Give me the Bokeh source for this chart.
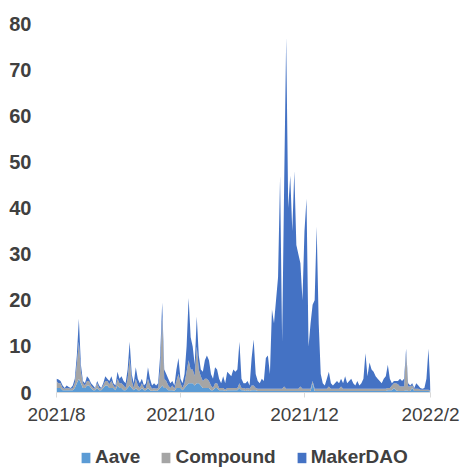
import pandas as pd
from bokeh.plotting import figure
from bokeh.layouts import column
from bokeh.models import Range1d, FixedTicker, Legend, LegendItem, ColumnDataSource
from bokeh.embed import file_html
from bokeh.resources import INLINE

dates = pd.date_range("2021-08-01", "2022-02-01", freq="D")

aave = [
    1, 1, 1, 0.5, 0.5, 0.5, 0.5, 0.5, 0.5, 1, 2, 3, 2, 1, 1, 1.5, 1.5, 1, 0.5, 0.5, 1, 0.5, 0.5, 1, 1.5, 1.5, 1, 1, 1, 0.5, 1.5,
    1, 1, 0.5, 0.5, 1, 1.5, 1, 0.5, 1, 0.5, 0.5, 1, 0.5, 0.5, 1, 0.5, 0.3, 0.5, 0.3, 0.5, 1, 1.5, 1, 1, 0.5, 0.5, 0.5, 0.3, 1, 1,
    1, 0.5, 1, 1.5, 2, 2, 2, 1.5, 2, 2, 1.5, 1, 1, 1, 1, 0.5, 0.5, 1, 1, 0.5, 0.5, 0.5, 0.3, 0.5, 0.5, 0.5, 0.5, 0.5, 0.5, 1, 0.5,
    0.5, 0.3, 0.5, 0.3, 0.5, 0.5, 0.5, 0.3, 0.3, 0.3, 0.3, 0.3, 0.3, 0.3, 0.3, 0.3, 0.3, 0.3, 0.3, 0.3, 0.3, 0.3, 0.3, 0.3, 0.3, 0.3, 0.3, 0.3, 0.3, 0.3,
    0.3, 0.3, 0.3, 0.3, 2, 0.3, 0.3, 0.3, 0.3, 0.3, 0.3, 0.3, 0.3, 0.3, 0.3, 0.3, 0.3, 0.3, 0.3, 0.3, 0.3, 0.3, 0.3, 0.3, 0.3, 0.3, 0.3, 0.3, 0.3, 0.3, 0.3,
    0.3, 0.3, 0.3, 0.3, 0.3, 0.3, 0.3, 0.3, 0.3, 0.3, 0.5, 0.5, 0.5, 1, 0.5, 0.3, 0.3, 0.3, 0.3, 0.5, 0.3, 0.3, 1, 0.3, 0.3, 0.3, 0.3, 0.3, 0.3, 0.3, 0.3,
    0.2,
]

compound = [
    1.5, 1, 1, 0.5, 0.3, 0.5, 0.4, 0.3, 0.5, 1, 4, 8, 2.5, 1, 0.5, 1, 1, 0.5, 0.5, 0.3, 1, 0.5, 0.3, 0.5, 1, 1, 0.8, 1.5, 0.5, 0.5, 1.5,
    1, 1, 1, 0.5, 2, 6, 1.5, 0.5, 2, 1, 0.5, 1, 0.5, 0.5, 2, 1, 0.5, 0.5, 0.5, 0.5, 4, 15, 2, 1.5, 1, 0.5, 1, 0.5, 1.5, 3,
    1, 0.5, 1, 3, 5, 3, 3, 2, 8, 3, 2, 1.5, 2, 2, 1.5, 1, 0.5, 1, 1, 0.5, 0.5, 0.5, 0.3, 0.5, 0.5, 0.5, 0.5, 0.5, 0.5, 1, 0.5,
    0.5, 0.5, 0.5, 0.5, 1, 1, 0.5, 0.5, 0.5, 0.5, 0.5, 0.5, 0.5, 0.5, 0.5, 0.5, 0.5, 0.5, 0.5, 0.5, 1, 0.5, 0.5, 0.5, 0.5, 0.5, 0.5, 0.5, 1, 0.5,
    0.5, 0.5, 0.5, 0.5, 0.5, 0.5, 0.5, 0.5, 0.5, 0.5, 0.5, 0.5, 1, 0.5, 0.5, 0.5, 0.5, 0.5, 1, 0.5, 0.5, 0.5, 0.5, 0.5, 0.5, 0.5, 0.5, 0.5, 0.5, 0.5, 0.5,
    0.5, 0.5, 0.5, 0.5, 0.5, 0.5, 0.5, 0.5, 0.5, 0.5, 0.5, 0.5, 1, 1, 1.5, 1.5, 1, 1, 1, 8, 1, 1, 0.5, 0.5, 0.5, 0.5, 0.3, 0.3, 0.3, 0.3, 0.3,
    0.2,
]

makerdao = [
    0.5, 0.8, 0.5, 0.5, 0.2, 0.5, 0.3, 0.2, 0.5, 1, 2, 5, 1.5, 0.5, 0.5, 1, 0.5, 0.5, 0.5, 0.2, 0.5, 0.5, 0.2, 0.5, 1, 0.5, 0.7, 1, 0.5, 0.5, 1.5,
    1, 1.5, 1, 1, 2, 3.5, 1.5, 1, 2.5, 1.5, 1, 1, 0.5, 1, 2.5, 1.5, 0.7, 1, 0.7, 1, 3, 3, 2, 1.5, 1.5, 1, 1, 0.7, 2.5, 3.5,
    1, 1, 2, 5.5, 13.5, 7, 5, 2.5, 6.5, 3, 1.5, 2, 4, 5, 4.5, 2.5, 2, 3.5, 3, 2, 1, 2.5, 1.4, 3.5, 3, 2.5, 4, 3.5, 4, 9, 2,
    1, 1.2, 1.5, 0.7, 6, 10, 3, 1.7, 1.2, 2.2, 1.7, 6.7, 7.2, 3.2, 17.2, 14.2, 19.2, 24.2, 46.2, 10.2, 43.7, 76.2, 39.2, 46.2, 34.2, 47.2, 31.2, 29.2, 26.7, 19.2,
    34.2, 41.2, 9.2, 14.2, 16.5, 19.2, 35.2, 14.2, 3.2, 1.2, 0.7, 2.2, 3.2, 1.2, 0.7, 1.2, 1.7, 1.2, 1.7, 1.2, 2.7, 1.2, 1.7, 2.2, 1.2, 0.7, 1.7, 0.7, 1.2, 2.2, 7.7,
    2.7, 5.7, 4.2, 3.7, 2.7, 2.2, 1.7, 1.2, 2.2, 2.7, 5, 2, 0.5, 0.5, 0.5, 0.7, 1.7, 1.2, 1.7, 1, 0.7, 0.2, 0.5, 0.2, 1.2, 0.7, 0.4, 0.2, 0.4, 2.4, 8.9,
    0.1,
]

series_names = ["Aave", "Compound", "MakerDAO"]
series_colors = ["#5B9BD5", "#A5A5A5", "#4472C4"]
x_tick_dates = ["2021-08-01", "2021-10-01", "2021-12-01", "2022-02-01"]
x_tick_labels = ["2021/8", "2021/10", "2021/12", "2022/2"]
y_ticks = [0, 10, 20, 30, 40, 50, 60, 70, 80]

FONT = "Liberation Sans"
TXT = "#404040"

source = ColumnDataSource(dict(date=dates, Aave=aave, Compound=compound, MakerDAO=makerdao))

p = figure(width=460, height=444, x_axis_type="datetime", output_backend="svg",
           toolbar_location=None,
           x_range=Range1d(dates[0], dates[-1]), y_range=Range1d(0, 80),
           min_border_left=56, min_border_right=30, min_border_top=23, min_border_bottom=52)
p.outline_line_color = None
p.grid.visible = False
p.background_fill_color = "white"
p.border_fill_color = "white"

rs = p.varea_stack(stackers=series_names, x="date", color=series_colors, source=source)

tick_ms = [int(pd.Timestamp(d).timestamp() * 1000) for d in x_tick_dates]
p.xaxis.ticker = FixedTicker(ticks=tick_ms)
p.xaxis.major_label_overrides = {t: l for t, l in zip(tick_ms, x_tick_labels)}
p.xaxis.axis_line_color = "#D9D9D9"
p.xaxis.major_tick_line_color = "#D9D9D9"
p.xaxis.major_tick_out = 5
p.xaxis.major_tick_in = 0
p.xaxis.minor_tick_line_color = None
p.xaxis.major_label_text_font = FONT
p.xaxis.major_label_text_font_size = "19px"
p.xaxis.major_label_text_color = TXT
p.xaxis.major_label_standoff = 6

p.yaxis.ticker = FixedTicker(ticks=y_ticks)
p.yaxis.axis_line_color = None
p.yaxis.major_tick_line_color = None
p.yaxis.minor_tick_line_color = None
p.yaxis.major_label_text_font = FONT
p.yaxis.major_label_text_font_size = "20px"
p.yaxis.major_label_text_font_style = "bold"
p.yaxis.major_label_text_color = TXT
p.yaxis.major_label_standoff = 19

# legend strip as a separate small figure under the chart (its frame aligns with the chart's)
lf = figure(width=460, height=24, output_backend="svg", toolbar_location=None,
            x_range=Range1d(0, 1), y_range=Range1d(0, 1),
            x_axis_location=None, y_axis_location=None,
            min_border_left=0, min_border_right=0, min_border_top=0, min_border_bottom=0)
lf.outline_line_color = None
lf.grid.visible = False
swatches = [lf.varea(x=[0, 1], y1=[0, 0], y2=[0, 0], fill_color=c) for c in series_colors]

legend = Legend(items=[LegendItem(label=n, renderers=[r]) for n, r in zip(series_names, swatches)],
                orientation="horizontal", location=(24, 0),
                glyph_width=11, glyph_height=13, label_standoff=4, spacing=20,
                padding=0, margin=0, border_line_color=None, background_fill_alpha=0,
                label_text_font=FONT, label_text_font_size="19px",
                label_text_font_style="bold", label_text_color=TXT)
lf.add_layout(legend, "center")

open("out.html", "w").write(file_html(column(p, lf, spacing=0), INLINE))
